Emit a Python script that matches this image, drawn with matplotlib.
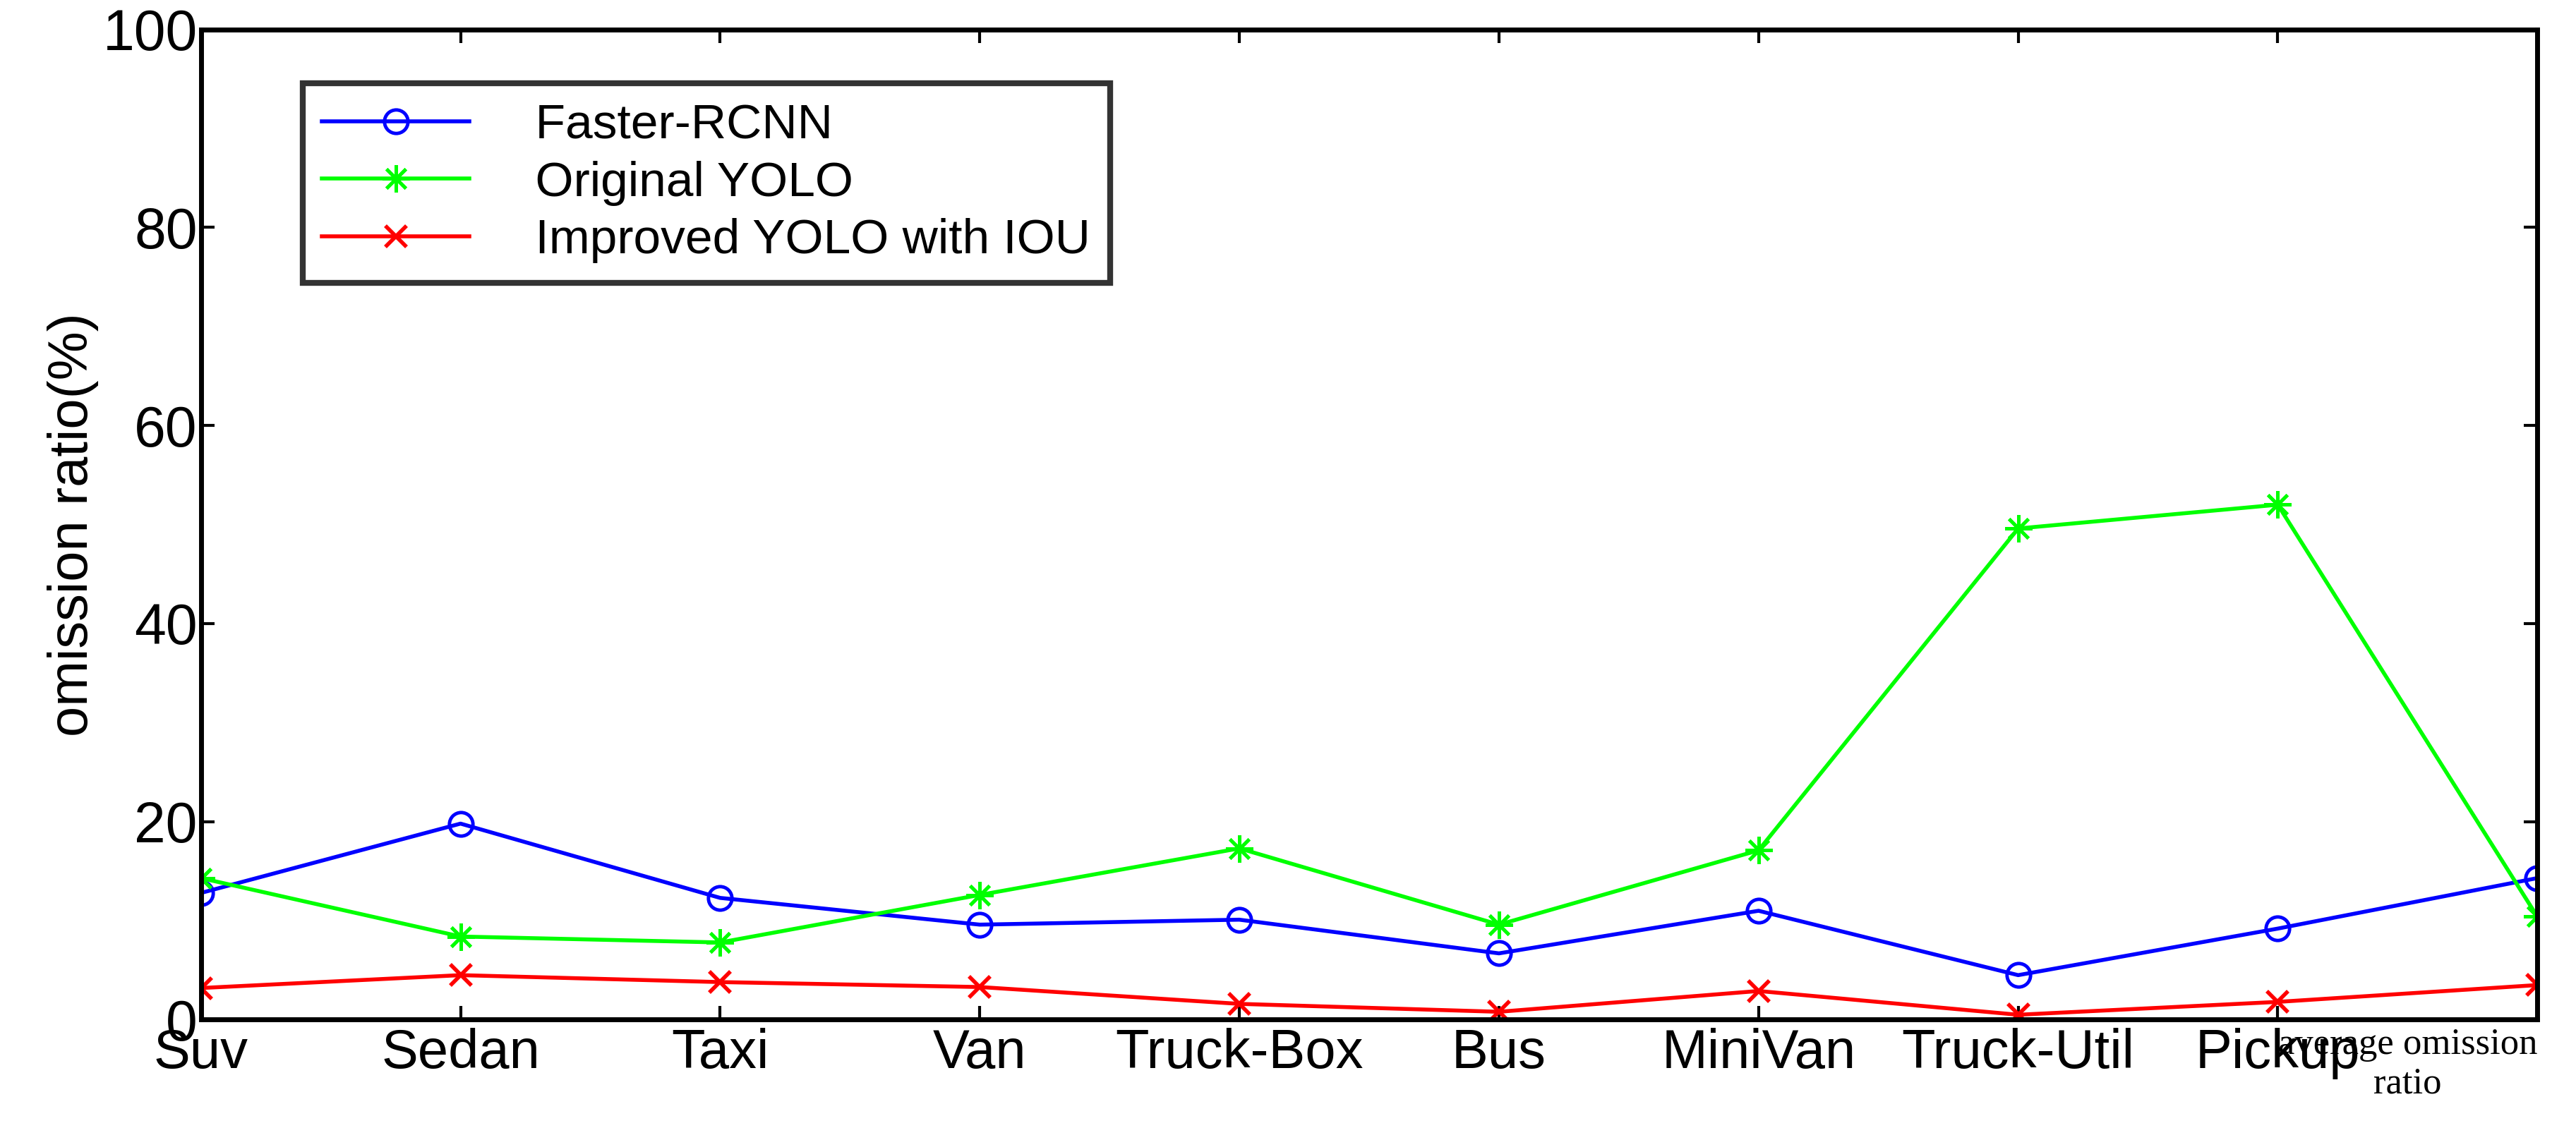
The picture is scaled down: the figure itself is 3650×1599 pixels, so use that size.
import matplotlib
matplotlib.use("Agg")
import matplotlib.pyplot as plt

categories = ["Suv", "Sedan", "Taxi", "Van", "Truck-Box", "Bus", "MiniVan", "Truck-Util", "Pickup", "average omission\nratio"]
faster_rcnn = [12.8, 19.8, 12.3, 9.6, 10.1, 6.7, 11.0, 4.5, 9.2, 14.3]
original_yolo = [14.3, 8.4, 7.8, 12.6, 17.3, 9.6, 17.1, 49.6, 52.0, 10.4]
improved_yolo = [3.2, 4.5, 3.8, 3.3, 1.6, 0.8, 2.9, 0.5, 1.8, 3.5]
yticks = [0, 20, 40, 60, 80, 100]

plt.rcParams['font.family'] = ['Arial', 'Liberation Sans', 'DejaVu Sans']
fig = plt.figure(figsize=(36.5, 15.99), dpi=100)
ax = fig.add_axes([0.078, 0.096, 0.907, 0.878])
x = list(range(1, len(categories) + 1))
ax.plot(x, faster_rcnn, color='#0000ff', marker='o', markerfacecolor='none', markersize=24, markeredgewidth=3.5, linewidth=4, label='  Faster-RCNN')
ax.plot(x, original_yolo, color='#00ff00', marker=(8, 2, 0), markersize=28, markeredgewidth=3.5, linewidth=4, label='  Original YOLO')
ax.plot(x, improved_yolo, color='#ff0000', marker='x', markersize=22, markeredgewidth=4, linewidth=4, label='  Improved YOLO with IOU')
ax.set_xlim(1, 10)
ax.set_ylim(0, 100)
ax.set_yticks(yticks)
ax.set_xticks(x)
ax.set_xticklabels(categories)
for lbl in ax.get_xticklabels()[:-1]:
    lbl.set_fontsize(56)
last = ax.get_xticklabels()[-1]
last.set_fontsize(38)
last.set_family(['Liberation Serif', 'DejaVu Serif'])
last.set_ha('right')
last.set_multialignment('center')
ax.tick_params(axis='y', labelsize=58, direction='in', length=14, width=3)
ax.tick_params(axis='x', direction='in', length=14, width=3, pad=8)
ax.tick_params(top=True, right=True, direction='in')
ax.set_ylabel('omission ratio(%)', fontsize=56)
for s in ax.spines.values():
    s.set_linewidth(5)
leg = ax.legend(loc='upper left', bbox_to_anchor=(0.033, 0.97), fontsize=50, frameon=True, fancybox=False, edgecolor='black', handlelength=3.0, borderpad=0.4, labelspacing=0.25)
leg.get_frame().set_linewidth(6)
fig.savefig('out.png', dpi=100)
